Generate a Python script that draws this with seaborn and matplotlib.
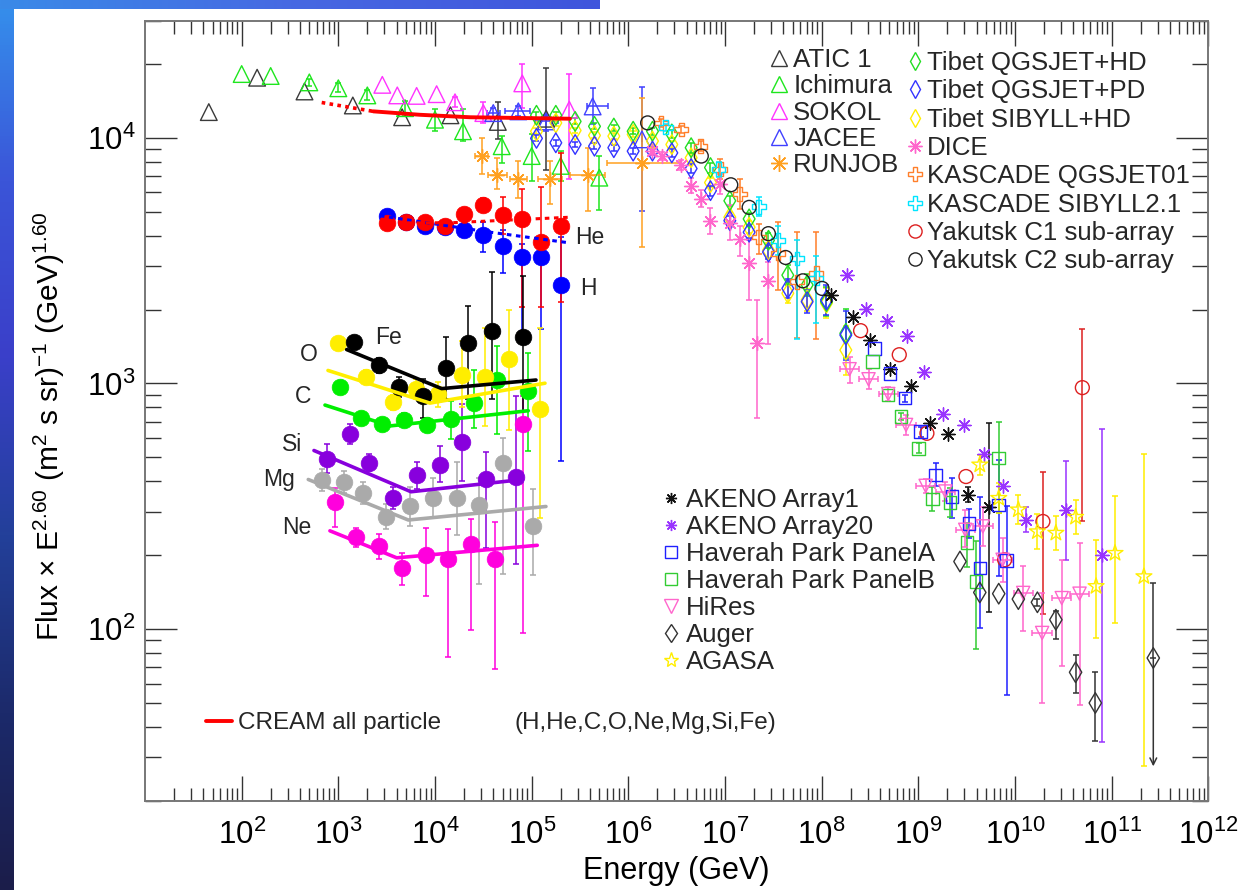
import numpy as np
import matplotlib
matplotlib.use("Agg")
import matplotlib.pyplot as plt
import seaborn as sns
from matplotlib.lines import Line2D
from matplotlib.markers import MarkerStyle
from matplotlib.colors import LinearSegmentedColormap
from matplotlib.ticker import LogLocator, NullFormatter

sns.set_theme(style="ticks")
plt.rcParams['font.family'] = ['Liberation Sans', 'DejaVu Sans']
plt.rcParams['mathtext.fontset'] = 'custom'
plt.rcParams['mathtext.rm'] = 'Liberation Sans'
plt.rcParams['mathtext.it'] = 'Liberation Sans:italic'
plt.rcParams['mathtext.bf'] = 'Liberation Sans:bold'

# ---------------- data: log10(E/GeV), log10(Flux x E^2.6), errors in dex ----------------
ATIC_logE = [1.66, 2.16, 2.65, 3.15, 3.66, 4.16, 4.65, 5.15]
ATIC_logF = [4.105, 4.245, 4.189, 4.132, 4.084, 4.092, 4.065, 4.078]
ATIC_dn = [0.01, 0.01, 0.01, 0.01, 0.01, 0.01, 0.071, 0.21]
ATIC_up = [0.01, 0.01, 0.01, 0.01, 0.01, 0.01, 0.08, 0.208]

ICHI_logE = [2.0, 2.3, 2.7, 3.0, 3.3, 3.69, 4.0, 4.29, 4.69, 5.0, 5.3, 5.7]
ICHI_logF = [4.26, 4.252, 4.226, 4.202, 4.173, 4.121, 4.074, 4.027, 3.966, 3.926, 3.886, 3.838]
ICHI_dn = [0.01, 0.01, 0.015, 0.015, 0.02, 0.03, 0.045, 0.041, 0.07, 0.10, 0.06, 0.131]
ICHI_up = [0.01, 0.01, 0.015, 0.02, 0.02, 0.03, 0.045, 0.091, 0.04, 0.089, 0.06, 0.088]

SOKOL_logE = [3.455, 3.61, 3.81, 4.017, 4.207, 4.50, 4.903, 5.389]
SOKOL_logF = [4.216, 4.173, 4.171, 4.178, 4.145, 4.101, 4.222, 4.115]
SOKOL_dn = [0.01, 0.01, 0.01, 0.01, 0.02, 0.04, 0.10, 0.283]
SOKOL_up = [0.01, 0.01, 0.01, 0.01, 0.02, 0.044, 0.078, 0.145]

JACEE_logE = [4.603, 4.862, 5.148, 5.631, 6.141]
JACEE_logF = [4.101, 4.108, 4.067, 4.128, 3.994]
JACEE_dn = [0.02, 0.02, 0.04, 0.071, 0.29]
JACEE_up = [0.02, 0.02, 0.025, 0.074, 0.214]
JACEE_xdn = [0.069, 0.138, 0.114, 0.062, 0.0]
JACEE_xup = [0.069, 0.121, 0.124, 0.161, 0.0]

RUNJOB_logE = [4.483, 4.644, 4.862, 5.19, 5.586, 6.141]
RUNJOB_logF = [3.926, 3.848, 3.834, 3.834, 3.848, 3.898]
RUNJOB_dn = [0.074, 0.057, 0.077, 0.104, 0.147, 0.344]
RUNJOB_up = [0.074, 0.071, 0.071, 0.071, 0.111, 0.263]
RUNJOB_xdn = [0.07, 0.10, 0.09, 0.12, 0.19, 0.36]
RUNJOB_xup = [0.07, 0.10, 0.09, 0.12, 0.17, 0.39]

TIBET_logE = [5.05, 5.25, 5.45, 5.65, 5.85, 6.05, 6.25, 6.45, 6.65, 6.85, 7.05, 7.25, 7.45, 7.65, 7.85, 8.05, 8.25]
TIBET_HD_logF = [4.092, 4.092, 4.067, 4.047, 4.04, 4.027, 4.027, 4.016, 3.96, 3.879, 3.744, 3.67, 3.583, 3.441, 3.401, 3.333, 3.204]
TIBET_PD_logF = [3.998, 3.98, 3.973, 3.966, 3.96, 3.946, 3.946, 3.939, 3.875, 3.785, 3.663, 3.616, 3.535, 3.387, 3.333, 3.34, 3.197]
TIBET_SIB_logF = [4.027, 4.061, 4.03, 4.01, 4.007, 4.014, 3.987, 3.973, 3.919, 3.818, 3.677, 3.636, 3.542, 3.367, 3.34, 3.327, 3.136]
TIBET_err = [0.012, 0.012, 0.012, 0.012, 0.012, 0.012, 0.015, 0.015, 0.02, 0.02, 0.02, 0.025, 0.03, 0.04, 0.046, 0.06, 0.10]

DICE_logE = [6.24, 6.348, 6.545, 6.648, 6.747, 6.845, 6.948, 7.052, 7.155, 7.248, 7.331, 7.445]
DICE_logF = [3.946, 3.926, 3.89, 3.805, 3.752, 3.663, 3.813, 3.655, 3.587, 3.49, 3.163, 3.417]
DICE_dn = [0.015, 0.015, 0.02, 0.03, 0.035, 0.053, 0.04, 0.07, 0.069, 0.149, 0.303, 0.255]
DICE_up = [0.015, 0.015, 0.02, 0.03, 0.035, 0.05, 0.04, 0.07, 0.053, 0.093, 0.178, 0.077]

KQ_logE = [6.338, 6.549, 6.747, 6.953, 7.151, 7.35, 7.548, 7.745, 7.944]
KQ_logF = [4.061, 4.034, 3.966, 3.872, 3.771, 3.596, 3.529, 3.414, 3.448]
KQ_dn = [0.015, 0.015, 0.02, 0.04, 0.06, 0.067, 0.149, 0.23, 0.269]
KQ_up = [0.015, 0.015, 0.02, 0.04, 0.062, 0.055, 0.127, 0.202, 0.168]

KS_logE = [6.386, 6.933, 7.35, 7.548, 7.745, 7.944]
KS_logF = [4.043, 3.872, 3.72, 3.583, 3.509, 3.428]
KS_dn = [0.015, 0.03, 0.04, 0.06, 0.33, 0.18]
KS_up = [0.015, 0.03, 0.04, 0.06, 0.074, 0.09]

YAK1_logE = [8.403, 8.803, 9.089, 9.493, 9.893, 10.289, 10.697]
YAK1_logF = [3.215, 3.117, 2.797, 2.621, 2.282, 2.438, 2.983]
YAK1_dn = [0.01, 0.01, 0.01, 0.01, 0.01, 0.377, 0.545]
YAK1_up = [0.01, 0.01, 0.01, 0.01, 0.01, 0.2, 0.237]

YAK2_logE = [6.2, 6.755, 7.06, 7.25, 7.449, 7.627, 7.805, 8.004]
YAK2_logF = [4.061, 3.926, 3.809, 3.717, 3.61, 3.513, 3.418, 3.387]
YAK2_err = [0.01, 0.01, 0.01, 0.01, 0.01, 0.01, 0.01, 0.01]

AK1_logE = [8.097, 8.321, 8.505, 8.709, 8.925, 9.118, 9.309, 9.513, 9.729]
AK1_logF = [3.36, 3.272, 3.177, 3.058, 2.99, 2.841, 2.795, 2.547, 2.495]
AK1_dn = [0.01, 0.01, 0.01, 0.01, 0.01, 0.01, 0.01, 0.03, 0.426]
AK1_up = [0.01, 0.01, 0.01, 0.01, 0.01, 0.01, 0.01, 0.03, 0.346]

AK20_logE = [8.261, 8.464, 8.676, 8.881, 9.064, 9.26, 9.473, 9.677, 9.872, 10.109, 10.526, 10.9]
AK20_logF = [3.441, 3.302, 3.255, 3.193, 3.048, 2.876, 2.831, 2.713, 2.583, 2.445, 2.486, 2.303]
AK20_dn = [0.01, 0.01, 0.01, 0.01, 0.01, 0.01, 0.01, 0.01, 0.01, 0.05, 0.204, 0.762]
AK20_up = [0.01, 0.01, 0.01, 0.01, 0.01, 0.01, 0.01, 0.01, 0.01, 0.05, 0.2, 0.511]

HPA_logE = [8.546, 8.709, 8.86, 9.024, 9.179, 9.35, 9.525, 9.64, 9.831, 9.913]
HPA_logF = [3.143, 3.041, 2.94, 2.804, 2.628, 2.54, 2.429, 2.248, 2.506, 2.279]
HPA_dn = [0.01, 0.01, 0.015, 0.02, 0.047, 0.088, 0.06, 0.244, 0.29, 0.546]
HPA_up = [0.01, 0.01, 0.015, 0.02, 0.05, 0.075, 0.06, 0.29, 0.184, 0.22]

HPB_logE = [8.526, 8.689, 8.82, 9.003, 9.146, 9.33, 9.505, 9.599, 9.832]
HPB_logF = [3.089, 2.953, 2.865, 2.736, 2.529, 2.515, 2.353, 2.194, 2.696]
HPB_dn = [0.01, 0.01, 0.015, 0.02, 0.05, 0.06, 0.1, 0.275, 0.223]
HPB_up = [0.01, 0.01, 0.015, 0.02, 0.05, 0.06, 0.08, 0.163, 0.146]

HIRES_logE = [8.289, 8.485, 8.689, 8.873, 9.076, 9.28, 9.485, 9.668, 9.872, 10.085, 10.281, 10.484, 10.668]
HIRES_logF = [3.058, 3.017, 2.957, 2.831, 2.583, 2.56, 2.404, 2.418, 2.282, 2.147, 1.984, 2.126, 2.144]
HIRES_dn = [0.058, 0.04, 0.03, 0.04, 0.03, 0.04, 0.07, 0.08, 0.09, 0.156, 0.285, 0.278, 0.452]
HIRES_up = [0.05, 0.04, 0.03, 0.04, 0.03, 0.04, 0.08, 0.08, 0.09, 0.108, 0.163, 0.156, 0.207]
HIRES_xerr = [0.1] * 13

AUGER_logE = [9.431, 9.636, 9.832, 10.035, 10.232, 10.423, 10.627, 10.831, 11.431]
AUGER_logF = [2.275, 2.149, 2.144, 2.122, 2.109, 2.038, 1.824, 1.699, 1.882]
AUGER_dn = [0.01, 0.01, 0.01, 0.01, 0.015, 0.08, 0.084, 0.156, 0.441]
AUGER_up = [0.01, 0.01, 0.01, 0.01, 0.015, 0.034, 0.072, 0.125, 0.305]

AGASA_logE = [9.636, 9.832, 10.035, 10.232, 10.423, 10.627, 10.839, 11.035, 11.334]
AGASA_logF = [2.669, 2.533, 2.486, 2.397, 2.391, 2.456, 2.174, 2.309, 2.214]
AGASA_dn = [0.04, 0.06, 0.06, 0.07, 0.07, 0.07, 0.21, 0.285, 0.77]
AGASA_up = [0.04, 0.06, 0.06, 0.07, 0.07, 0.07, 0.19, 0.233, 0.5]

# CREAM
CREAM_ALL_dot_logE = [2.828, 3.361]
CREAM_ALL_dot_logF = [4.144, 4.108]
CREAM_ALL_logE = [3.361, 3.845, 4.362, 5.396]
CREAM_ALL_logF = [4.108, 4.094, 4.084, 4.078]

CREAM_logE = [3.5, 3.7, 3.9, 4.1, 4.3, 4.5, 4.7, 4.9, 5.1, 5.3]
H_logF = [3.68, 3.656, 3.643, 3.636, 3.623, 3.603, 3.56, 3.515, 3.513, 3.401]
H_dn = [0.01, 0.01, 0.01, 0.015, 0.02, 0.067, 0.112, 0.3, 0.293, 0.715]
H_up = [0.01, 0.01, 0.01, 0.015, 0.02, 0.054, 0.063, 0.054, 0.07, 0.194]
HE_logF = [3.653, 3.657, 3.657, 3.643, 3.69, 3.727, 3.684, 3.67, 3.576, 3.643]
HE_dn = [0.01, 0.01, 0.01, 0.015, 0.02, 0.03, 0.074, 0.357, 0.263, 0.311]
HE_up = [0.01, 0.01, 0.01, 0.015, 0.02, 0.03, 0.074, 0.122, 0.222, 0.297]
H_fit_logE = [3.43, 4.57, 5.4]
H_fit_logF = [3.683, 3.616, 3.572]
HE_fit_logE = [3.43, 4.2, 5.4]
HE_fit_logF = [3.652, 3.655, 3.677]

FE_logE = [3.162, 3.424, 3.627, 3.873, 4.114, 4.344, 4.593, 4.907]
FE_logF = [3.168, 3.074, 2.986, 2.949, 3.064, 3.165, 3.215, 3.189]
FE_dn = [0.02, 0.03, 0.04, 0.09, 0.128, 0.228, 0.28, 0.30]
FE_up = [0.02, 0.03, 0.04, 0.07, 0.127, 0.152, 0.24, 0.25]
FE_fit_logE = [3.086, 4.069, 5.045]
FE_fit_logF = [3.138, 2.979, 3.014]

O_logE = [3.0, 3.286, 3.562, 3.8, 4.034, 4.276, 4.517, 4.765, 5.086]
O_logF = [3.165, 3.028, 2.923, 2.977, 2.956, 3.033, 3.026, 3.101, 2.896]
O_dn = [0.02, 0.025, 0.03, 0.04, 0.05, 0.13, 0.2, 0.29, 0.445]
O_up = [0.02, 0.025, 0.03, 0.04, 0.05, 0.14, 0.2, 0.2, 0.33]
O_fit_logE = [2.893, 3.948, 5.138]
O_fit_logF = [3.053, 2.92, 3.001]

C_logE = [3.017, 3.231, 3.448, 3.679, 3.92, 4.162, 4.403, 4.644, 4.965]
C_logF = [2.986, 2.858, 2.835, 2.853, 2.831, 2.855, 2.919, 3.014, 2.97]
C_dn = [0.025, 0.025, 0.025, 0.025, 0.03, 0.08, 0.10, 0.219, 0.243]
C_up = [0.025, 0.025, 0.025, 0.025, 0.03, 0.074, 0.135, 0.137, 0.156]
C_fit_logE = [2.862, 3.534, 4.965]
C_fit_logF = [2.912, 2.827, 2.889]

SI_logE = [2.886, 3.12, 3.317, 3.568, 3.81, 4.052, 4.282, 4.527, 4.835]
SI_logF = [2.694, 2.795, 2.678, 2.532, 2.626, 2.667, 2.761, 2.613, 2.62]
SI_dn = [0.06, 0.04, 0.035, 0.045, 0.055, 0.07, 0.157, 0.283, 0.357]
SI_up = [0.06, 0.04, 0.035, 0.045, 0.055, 0.08, 0.155, 0.109, 0.33]
SI_fit_logE = [2.748, 3.752, 4.907]
SI_fit_logF = [2.727, 2.559, 2.609]

MG_logE = [2.828, 3.061, 3.258, 3.49, 3.741, 3.976, 4.224, 4.458, 4.7, 5.017]
MG_logF = [2.606, 2.6, 2.555, 2.458, 2.499, 2.535, 2.532, 2.505, 2.676, 2.42]
MG_dn = [0.045, 0.045, 0.045, 0.05, 0.08, 0.08, 0.15, 0.32, 0.45, 0.2]
MG_up = [0.045, 0.045, 0.045, 0.05, 0.08, 0.08, 0.15, 0.11, 0.10, 0.15]
MG_fit_logE = [2.689, 3.724, 5.148]
MG_fit_logF = [2.609, 2.444, 2.499]

NE_logE = [2.965, 3.182, 3.424, 3.662, 3.907, 4.137, 4.369, 4.621, 4.907]
NE_logF = [2.516, 2.373, 2.337, 2.249, 2.303, 2.286, 2.347, 2.286, 2.835]
NE_dn = [0.10, 0.04, 0.05, 0.07, 0.17, 0.40, 0.35, 0.45, 0.85]
NE_up = [0.06, 0.04, 0.05, 0.06, 0.108, 0.12, 0.10, 0.15, 0.114]
NE_fit_logE = [2.913, 3.604, 5.058]
NE_fit_logF = [2.40, 2.29, 2.341]

ELEMENT_LABELS = ['He', 'H', 'Fe', 'O', 'C', 'Si', 'Mg', 'Ne']

# ---------------- colours ----------------
C_ATIC, C_ICHI, C_SOKOL, C_JACEE, C_RUNJOB = '#3a3a3a', '#1ee61e', '#ff33ff', '#4040ff', '#ffa020'
C_TIB_HD, C_TIB_PD, C_TIB_SIB = '#22dd22', '#3333ff', '#ffee00'
C_DICE, C_KQ, C_KS = '#ff66cc', '#ff7f2a', '#00e5ff'
C_YAK1, C_YAK2 = '#dd2020', '#222222'
C_AK1, C_AK20, C_HPA, C_HPB = '#111111', '#9933ff', '#2020ff', '#33cc33'
C_HIRES, C_AUGER, C_AGASA = '#ff66cc', '#333333', '#ffee00'
C_H, C_HE, C_FE, C_O, C_C, C_SI, C_MG, C_NE = '#0000ff', '#ff0000', '#000000', '#ffee00', '#00ee00', '#8800dd', '#aaaaaa', '#ff00dd'
ASTER = (8, 2, 0)


def P(a):
    return 10.0 ** np.asarray(a, dtype=float)


def draw_series(ax, logE, logF, dn, up, color, marker, ms, filled=False,
                xdn=None, xup=None, lw=1.0, z=3, elw=1.1, cap=2.5):
    E, F = P(logE), P(logF)
    lf = np.asarray(logF, float)
    dn_a, up_a = np.asarray(dn, float), np.asarray(up, float)
    show = (dn_a > 0.011) | (up_a > 0.011)
    if xdn is not None:
        show = show | (np.asarray(xdn, float) > 0) | (np.asarray(xup, float) > 0)
    if show.any():
        yerr = [F - P(lf - dn_a), P(lf + up_a) - F]
        yerr = [yerr[0][show], yerr[1][show]]
        xerr = None
        if xdn is not None:
            le = np.asarray(logE, float)
            xerr = [(E - P(le - np.asarray(xdn)))[show], (P(le + np.asarray(xup)) - E)[show]]
        ax.errorbar(E[show], F[show], yerr=yerr, xerr=xerr, fmt='none', ecolor=color,
                    elinewidth=elw, capsize=cap, capthick=elw, zorder=z - 0.5)
    kw = dict(x=E, y=F, marker=marker, s=ms ** 2, ax=ax, zorder=z, legend=False)
    if not MarkerStyle(marker).is_filled():
        sns.scatterplot(color=color, linewidth=lw, **kw)
    elif filled:
        sns.scatterplot(color=color, edgecolor=color, linewidth=0.5, **kw)
    else:
        sns.scatterplot(color=color, facecolor='none', edgecolor=color, linewidth=lw, **kw)


def draw_line(ax, logE, logF, color, lw=2.5, ls='-', z=4):
    sns.lineplot(x=P(logE), y=P(logF), color=color, lw=lw, ax=ax, zorder=z,
                 sort=False, estimator=None, linestyle=ls)


W, H = 1247, 890
fig = plt.figure(figsize=(W / 100, H / 100), dpi=100)
fig.patch.set_facecolor('white')

# decorative gradient frame (slide background)
bg = fig.add_axes([0, 0, 1, 1], zorder=-5)
cmap_v = LinearSegmentedColormap.from_list('v', ['#3590ec', '#3b55d8', '#3a3fc9', '#23409a', '#1c2a6b', '#1b1d4a'])
bg.imshow(np.linspace(0, 1, 256).reshape(-1, 1), extent=[0, 14, H, 0], aspect='auto', cmap=cmap_v)
cmap_h = LinearSegmentedColormap.from_list('h', ['#3a8ae8', '#4768e2', '#3f55dc'])
bg.imshow(np.linspace(0, 1, 256).reshape(1, -1), extent=[0, 600, 9, 0], aspect='auto', cmap=cmap_h)
bg.set_xlim(0, W)
bg.set_ylim(H, 0)
bg.axis('off')

x0, x1, y0, y1 = 145, 1208.3, 20.7, 800.7
ax = fig.add_axes([x0 / W, 1 - y1 / H, (x1 - x0) / W, (y1 - y0) / H])
ax.set_facecolor('white')
ax.set_xscale('log')
ax.set_yscale('log')

# direct measurements
draw_series(ax, ATIC_logE, ATIC_logF, ATIC_dn, ATIC_up, C_ATIC, '^', 12)
draw_series(ax, ICHI_logE, ICHI_logF, ICHI_dn, ICHI_up, C_ICHI, '^', 12)
draw_series(ax, SOKOL_logE, SOKOL_logF, SOKOL_dn, SOKOL_up, C_SOKOL, '^', 12)
draw_series(ax, JACEE_logE, JACEE_logF, JACEE_dn, JACEE_up, C_JACEE, '^', 12,
            xdn=JACEE_xdn, xup=JACEE_xup)
draw_series(ax, RUNJOB_logE, RUNJOB_logF, RUNJOB_dn, RUNJOB_up, C_RUNJOB, ASTER, 10,
            xdn=RUNJOB_xdn, xup=RUNJOB_xup)

# air shower
draw_series(ax, TIBET_logE, TIBET_SIB_logF, TIBET_err, TIBET_err, C_TIB_SIB, 'd', 10)
draw_series(ax, TIBET_logE, TIBET_HD_logF, TIBET_err, TIBET_err, C_TIB_HD, 'd', 10)
draw_series(ax, TIBET_logE, TIBET_PD_logF, TIBET_err, TIBET_err, C_TIB_PD, 'd', 10)
draw_series(ax, DICE_logE, DICE_logF, DICE_dn, DICE_up, C_DICE, ASTER, 10)
draw_series(ax, KQ_logE, KQ_logF, KQ_dn, KQ_up, C_KQ, 'P', 10)
draw_series(ax, KS_logE, KS_logF, KS_dn, KS_up, C_KS, 'P', 10)
draw_series(ax, YAK2_logE, YAK2_logF, YAK2_err, YAK2_err, C_YAK2, 'o', 10)
draw_series(ax, YAK1_logE, YAK1_logF, YAK1_dn, YAK1_up, C_YAK1, 'o', 10)
draw_series(ax, AK1_logE, AK1_logF, AK1_dn, AK1_up, C_AK1, ASTER, 9.5)
draw_series(ax, AK20_logE, AK20_logF, AK20_dn, AK20_up, C_AK20, ASTER, 9.5)
draw_series(ax, HPA_logE, HPA_logF, HPA_dn, HPA_up, C_HPA, 's', 9)
draw_series(ax, HPB_logE, HPB_logF, HPB_dn, HPB_up, C_HPB, 's', 9)
draw_series(ax, HIRES_logE, HIRES_logF, HIRES_dn, HIRES_up, C_HIRES, 'v', 9.5,
            xdn=HIRES_xerr, xup=HIRES_xerr)
draw_series(ax, AGASA_logE, AGASA_logF, AGASA_dn, AGASA_up, C_AGASA, '*', 12)
draw_series(ax, AUGER_logE[:-1], AUGER_logF[:-1], AUGER_dn[:-1], AUGER_up[:-1], C_AUGER, 'd', 10.5)
draw_series(ax, AUGER_logE[-1:], AUGER_logF[-1:], [0.0], AUGER_up[-1:], C_AUGER, 'd', 10.5)
ax.annotate('', xy=(P(AUGER_logE[-1]), P(AUGER_logF[-1] - AUGER_dn[-1])),
            xytext=(P(AUGER_logE[-1]), P(AUGER_logF[-1])),
            arrowprops=dict(arrowstyle='->', color=C_AUGER, lw=1.1, shrinkA=0, shrinkB=0,
                            mutation_scale=12), zorder=2)

# CREAM
draw_line(ax, CREAM_ALL_dot_logE, CREAM_ALL_dot_logF, '#ff0000', lw=2.6, ls=(0, (1, 1.2)))
draw_line(ax, CREAM_ALL_logE, CREAM_ALL_logF, '#ff0000', lw=2.8)
draw_series(ax, CREAM_logE, H_logF, H_dn, H_up, C_H, 'o', 12, filled=True, z=5)
draw_series(ax, CREAM_logE, HE_logF, HE_dn, HE_up, C_HE, 'o', 12, filled=True, z=5)
draw_line(ax, H_fit_logE, H_fit_logF, C_H, lw=2.2, ls=(0, (1.5, 1.5)), z=6)
draw_line(ax, HE_fit_logE, HE_fit_logF, C_HE, lw=2.2, ls=(0, (1.5, 1.5)), z=6)

for lE, lF, dn, up, c, flE, flF in [
        (NE_logE, NE_logF, NE_dn, NE_up, C_NE, NE_fit_logE, NE_fit_logF),
        (MG_logE, MG_logF, MG_dn, MG_up, C_MG, MG_fit_logE, MG_fit_logF),
        (SI_logE, SI_logF, SI_dn, SI_up, C_SI, SI_fit_logE, SI_fit_logF),
        (C_logE, C_logF, C_dn, C_up, C_C, C_fit_logE, C_fit_logF),
        (O_logE, O_logF, O_dn, O_up, C_O, O_fit_logE, O_fit_logF),
        (FE_logE, FE_logF, FE_dn, FE_up, C_FE, FE_fit_logE, FE_fit_logF)]:
    draw_series(ax, lE, lF, dn, up, c, 'o', 12, filled=True, z=5)
    draw_line(ax, flE, flF, c, lw=2.6, z=6)

# ---------------- axes cosmetics ----------------
ax.set_xlim(1e1, 1e12)
ax.set_ylim(20, 3e4)
ax.set_xticks([10.0 ** k for k in range(2, 13)])
ax.set_xticklabels([r'$\mathregular{10^{%d}}$' % k for k in range(2, 13)])
ax.set_yticks([1e2, 1e3, 1e4])
ax.set_yticklabels([r'$\mathregular{10^{%d}}$' % k for k in (2, 3, 4)])
ax.xaxis.set_minor_locator(LogLocator(base=10, subs=np.arange(2, 10), numticks=40))
ax.yaxis.set_minor_locator(LogLocator(base=10, subs=np.arange(2, 10), numticks=40))
ax.xaxis.set_minor_formatter(NullFormatter())
ax.yaxis.set_minor_formatter(NullFormatter())
ax.tick_params(which='both', direction='in', top=True, right=True, color='#333333', width=1.0,
               labelsize=22.5, labelcolor='black')
ax.tick_params(axis='x', which='major', length=18, pad=14)
ax.tick_params(axis='x', which='minor', length=9.5)
ax.tick_params(axis='y', which='major', length=23, pad=7)
ax.tick_params(axis='y', which='minor', length=11.5)
for sp in ax.spines.values():
    sp.set_color('#777777')
    sp.set_linewidth(1.4)
    sp.set_visible(True)

ax.set_xlabel('Energy (GeV)', fontsize=22, labelpad=3, color='black')
ax.set_ylabel(r'Flux $\times$ E$^{2.60}$ (m$^{2}$ s sr)$^{-1}$ (GeV)$^{1.60}$', fontsize=21.5, color='black')
ax.yaxis.set_label_coords(-0.073, 0.48)


def fx(px):
    return (px - x0) / (x1 - x0)


def fy(py):
    return (y1 - py) / (y1 - y0)


label_pos = [(575, 238), (580, 289), (375, 338), (300, 355), (295, 397), (281.7, 445), (263.3, 480), (281.7, 527)]
for name, (px, py) in zip(ELEMENT_LABELS, label_pos):
    ax.text(fx(px), fy(py), name, transform=ax.transAxes, fontsize=16.5, va='center', ha='left', zorder=8)


def mh(marker, color, ms, filled=False):
    if not MarkerStyle(marker).is_filled():
        return Line2D([], [], marker=marker, ls='none', color=color, ms=ms, mew=1.0)
    return Line2D([], [], marker=marker, ls='none', ms=ms, mew=1.0,
                  mec=color, mfc=color if filled else 'none')


LEG_FS = 18.6
common = dict(frameon=False, loc='upper left', bbox_transform=ax.transAxes,
              borderaxespad=0, borderpad=0, fontsize=LEG_FS)

leg1 = ax.legend([mh('^', C_ATIC, 12), mh('^', C_ICHI, 12), mh('^', C_SOKOL, 12),
                  mh('^', C_JACEE, 12), mh(ASTER, C_RUNJOB, 12)],
                 ['ATIC 1', 'Ichimura', 'SOKOL', 'JACEE', 'RUNJOB'],
                 bbox_to_anchor=(fx(766), fy(48.3)), handlelength=1.0, handletextpad=0.05,
                 labelspacing=0.085, **common)
ax.add_artist(leg1)

leg2 = ax.legend([mh('d', C_TIB_HD, 9), mh('d', C_TIB_PD, 9), mh('d', C_TIB_SIB, 9),
                  mh(ASTER, C_DICE, 10), mh('P', C_KQ, 10), mh('P', C_KS, 10),
                  mh('o', C_YAK1, 9.5), mh('o', C_YAK2, 9.5)],
                 ['Tibet QGSJET+HD', 'Tibet QGSJET+PD', 'Tibet SIBYLL+HD', 'DICE',
                  'KASCADE QGSJET01', 'KASCADE SIBYLL2.1', 'Yakutsk C1 sub-array', 'Yakutsk C2 sub-array'],
                 bbox_to_anchor=(fx(907.3), fy(51)), handlelength=0.6, handletextpad=0.15,
                 labelspacing=0.167, **common)
ax.add_artist(leg2)

leg3 = ax.legend([mh(ASTER, C_AK1, 8), mh(ASTER, C_AK20, 8), mh('s', C_HPA, 8),
                  mh('s', C_HPB, 8), mh('v', C_HIRES, 10), mh('d', C_AUGER, 9.5), mh('*', C_AGASA, 11)],
                 ['AKENO Array1', 'AKENO Array20', 'Haverah Park PanelA', 'Haverah Park PanelB',
                  'HiRes', 'Auger', 'AGASA'],
                 bbox_to_anchor=(fx(660.2), fy(488.1)), handlelength=0.8, handletextpad=0.21,
                 labelspacing=0.118, **common)
ax.add_artist(leg3)

leg4 = ax.legend([Line2D([], [], color='#ff0000', lw=2.8)], ['CREAM all particle'],
                 bbox_to_anchor=(fx(206), fy(712)), handlelength=1.06, handletextpad=0.24,
                 frameon=False, loc='upper left', bbox_transform=ax.transAxes,
                 borderaxespad=0, borderpad=0, fontsize=17.5)
ax.text(fx(515), fy(722.5), '(H,He,C,O,Ne,Mg,Si,Fe)', transform=ax.transAxes,
        fontsize=17.5, va='center', ha='left')

fig.savefig('out.png', dpi=100)
